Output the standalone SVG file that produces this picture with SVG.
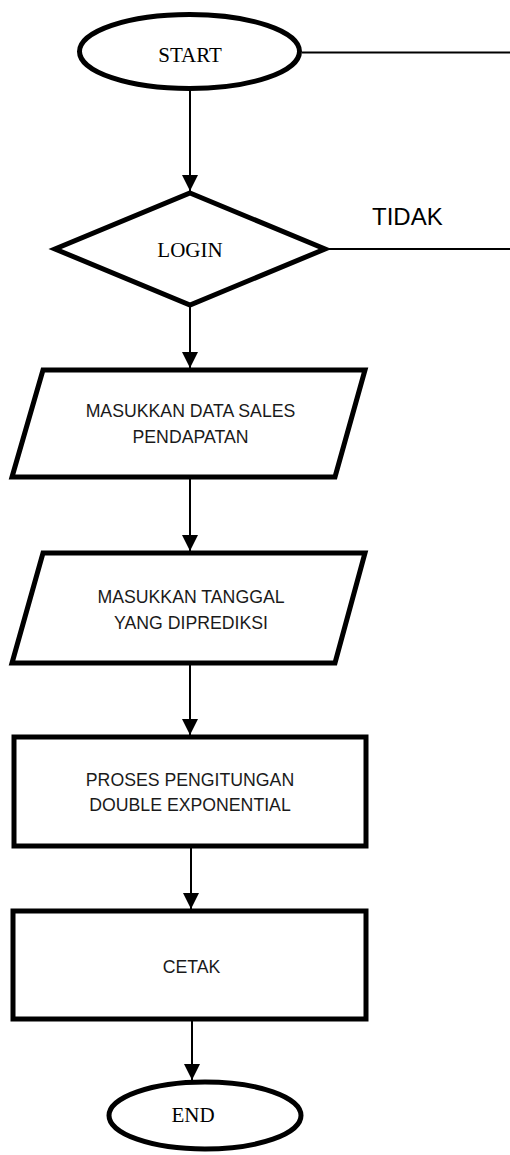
<svg xmlns="http://www.w3.org/2000/svg" width="510" height="1155" viewBox="0 0 510 1155">
  <style>
    .shape { fill: #ffffff; stroke: #000000; stroke-width: 5; stroke-linejoin: miter; }
    .link { fill: none; stroke: #000000; stroke-width: 2; }
    .serif { font-family: "Liberation Serif", "Times New Roman", serif; font-size: 21px; fill: #000000; text-anchor: middle; }
    .sans { font-family: "Liberation Sans", Arial, sans-serif; font-size: 17.7px; fill: #1a1a1a; text-anchor: middle; }
    .label { font-family: "Liberation Sans", Arial, sans-serif; font-size: 24px; fill: #000000; }
  </style>
  <defs>
    <marker id="arrow" markerUnits="userSpaceOnUse" markerWidth="16" markerHeight="16" refX="16" refY="8" orient="auto">
      <path d="M0,0 L16,8 L0,16 Z" fill="#000000"/>
    </marker>
  </defs>
  <rect width="510" height="1155" fill="#ffffff"/>

  <!-- connectors -->
  <g id="connectors">
    <line class="link" x1="302" y1="52.5" x2="510" y2="52.5"/>
    <line class="link" x1="325" y1="249" x2="510" y2="249"/>
    <line class="link" x1="190" y1="90" x2="190" y2="191" marker-end="url(#arrow)"/>
    <line class="link" x1="190" y1="305" x2="190" y2="368" marker-end="url(#arrow)"/>
    <line class="link" x1="190" y1="477" x2="190" y2="551" marker-end="url(#arrow)"/>
    <line class="link" x1="190" y1="663" x2="190" y2="735" marker-end="url(#arrow)"/>
    <line class="link" x1="191" y1="846" x2="191" y2="909" marker-end="url(#arrow)"/>
    <line class="link" x1="192" y1="1019" x2="192" y2="1080" marker-end="url(#arrow)"/>
    <text class="label" x="372" y="225">TIDAK</text>
  </g>

  <g id="start">
    <ellipse class="shape" cx="189.5" cy="51.5" rx="110" ry="37"/>
    <text class="serif" x="190" y="62">START</text>
  </g>

  <g id="login">
    <polygon class="shape" points="190,193 325,249 190,305 55,249"/>
    <text class="serif" x="190" y="257">LOGIN</text>
  </g>

  <g id="input-sales">
    <polygon class="shape" points="43,370 365,370 335,477 12,477"/>
    <text class="sans" x="190.5" y="417">MASUKKAN DATA SALES</text>
    <text class="sans" x="190.5" y="443">PENDAPATAN</text>
  </g>

  <g id="input-date">
    <polygon class="shape" points="43,553 365,553 335,663 12,663"/>
    <text class="sans" x="191" y="603">MASUKKAN TANGGAL</text>
    <text class="sans" x="191" y="629">YANG DIPREDIKSI</text>
  </g>

  <g id="process">
    <rect class="shape" x="14" y="737" width="352" height="109"/>
    <text class="sans" x="190" y="786">PROSES PENGITUNGAN</text>
    <text class="sans" x="190" y="811">DOUBLE EXPONENTIAL</text>
  </g>

  <g id="print">
    <rect class="shape" x="13" y="911" width="353" height="108"/>
    <text class="sans" x="191.5" y="973">CETAK</text>
  </g>

  <g id="end">
    <ellipse class="shape" cx="205" cy="1115.5" rx="96" ry="33.5"/>
    <text class="serif" x="193" y="1122">END</text>
  </g>
</svg>
